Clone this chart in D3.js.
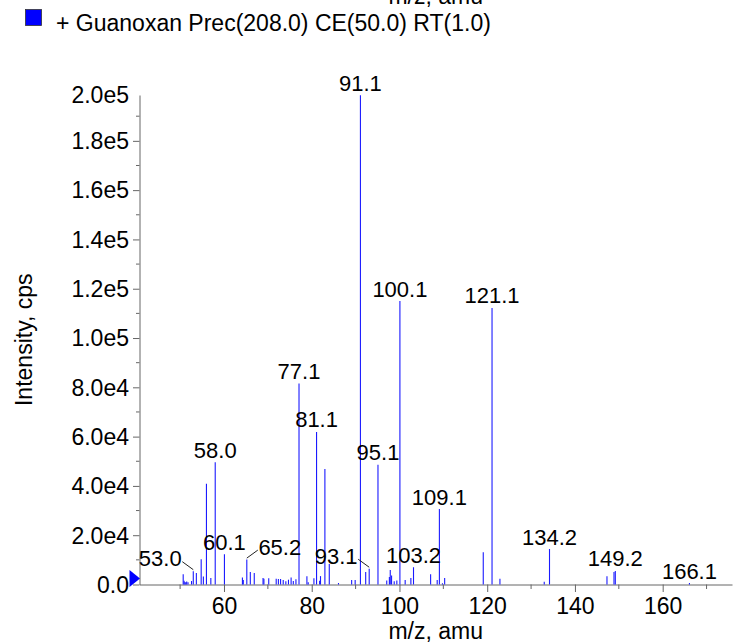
<!DOCTYPE html>
<html>
<head>
<meta charset="utf-8">
<script src="https://cdn.jsdelivr.net/npm/d3@7"></script>
<style>
  html, body { margin: 0; padding: 0; background: #fff; }
  svg { display: block; font-family: "Liberation Sans", Arial, Helvetica, sans-serif; }
</style>
</head>
<body>
<svg id="chart" width="735" height="643"></svg>
<script>
// ---- data ----
const mzValues = [
  50.7, 50.9, 51.1, 51.3, 51.5, 51.8, 52.6, 53.0, 53.7, 54.8, 55.3, 56.0, 57.0, 58.0,
  60.1, 64.2, 64.4, 65.2, 66.0, 66.9, 68.9, 69.1, 70.2, 71.9, 72.4, 72.9, 73.5, 74.1,
  74.7, 75.3, 75.8, 76.4, 77.1, 78.9, 79.2, 80.5, 81.1, 81.8, 82.0, 83.0, 84.0, 86.1,
  89.1, 89.9, 91.1, 92.3, 93.1, 95.1, 97.1, 97.7, 97.9, 98.2, 98.8, 99.4, 100.1,
  101.3, 102.6, 103.2, 107.1, 108.6, 109.1, 109.8, 110.3, 119.1, 121.1, 122.9,
  133.0, 134.2, 147.3, 148.9, 149.2, 166.1
];
const intensities = [
  4200, 1500, 1000, 800, 1200, 900, 1400, 5400, 4700, 10200, 3200, 40900, 2600, 49600,
  12250, 2800, 1800, 10100, 5100, 4700, 2600, 2350, 2500, 2350, 2200, 2200, 1800, 1300,
  1950, 2800, 1400, 2100, 81600, 3300, 900, 2500, 61900, 1500, 3400, 46900, 8300, 600,
  1800, 1800, 198500, 5100, 6400, 48600, 1600, 3000, 5900, 3700, 1300, 1600, 115000,
  1800, 2600, 7000, 4200, 1800, 30600, 500, 2640, 13050, 112200, 2300,
  1130, 14400, 3330, 5070, 5480, 600
];
const labeledMz = [53.0, 58.0, 60.1, 65.2, 77.1, 81.1, 91.1, 93.1, 95.1, 100.1, 103.2, 109.1, 121.1, 134.2, 149.2, 166.1];
const xMajorTicks = [60, 80, 100, 120, 140, 160];
const xMinorTicks = [50, 70, 90, 110, 130, 150, 170];
const yMajorTicks = [0, 2e4, 4e4, 6e4, 8e4, 1e5, 1.2e5, 1.4e5, 1.6e5, 1.8e5, 2e5];
const yMinorTicks = [1e4, 3e4, 5e4, 7e4, 9e4, 1.1e5, 1.3e5, 1.5e5, 1.7e5, 1.9e5];
const legendText = "+ Guanoxan Prec(208.0) CE(50.0) RT(1.0)";
const xAxisTitle = "m/z, amu";
const yAxisTitle = "Intensity, cps";
// labels drawn beside their peak with a leader line (direction: -1 left, +1 right)
const leaderSide = { "53.0": -1, "65.2": 1, "93.1": -1 };

(function () {
  // ---- layout ----
  const svg = d3.select("#chart");
  const mLeft = 139.5, mRight = 732, mBottom = 584.5, mTop = 95;
  const x = d3.scaleLinear().domain([40.74, 175.8]).range([mLeft, mRight]);
  const y = d3.scaleLinear().domain([0, 198600]).range([mBottom, mTop]).clamp(true);
  const axisColor = "#666";
  const fs = "23px";

  // y axis
  const yAxis = svg.append("g").attr("transform", `translate(${mLeft},0)`)
    .call(d3.axisLeft(y).tickValues(yMajorTicks).tickSizeInner(6.5).tickSizeOuter(0).tickPadding(4)
      .tickFormat(d => d === 0 ? "0.0" : d3.format(".1e")(d).replace("e+", "e")));
  yAxis.select(".domain").attr("stroke", axisColor);
  yAxis.selectAll(".tick line").attr("stroke", axisColor)
    .filter(d => d === 2e5).remove();
  yAxis.selectAll(".tick text").attr("font-size", fs).attr("font-family", null).attr("fill", "#000").attr("dy", "0.34em");
  yAxis.selectAll(".minor").data(yMinorTicks).enter().append("line").attr("class", "minor")
    .attr("x1", -3.5).attr("x2", 0).attr("y1", d => y(d)).attr("y2", d => y(d)).attr("stroke", axisColor);

  // x axis
  const xAxis = svg.append("g").attr("transform", `translate(0,${mBottom})`)
    .call(d3.axisBottom(x).tickValues(xMajorTicks).tickSizeInner(7.5).tickSizeOuter(0).tickPadding(4));
  xAxis.select(".domain").attr("stroke", axisColor);
  xAxis.selectAll(".tick line").attr("stroke", axisColor);
  xAxis.selectAll(".tick text").attr("font-size", fs).attr("font-family", null).attr("fill", "#000")
    .attr("y", 29).attr("dy", "0");
  xAxis.selectAll(".minor").data(xMinorTicks).enter().append("line").attr("class", "minor")
    .attr("x1", d => x(d)).attr("x2", d => x(d)).attr("y1", 0).attr("y2", 4.5).attr("stroke", axisColor);

  // peaks
  const peaks = mzValues.map((m, i) => ({ mz: m, v: intensities[i] }));
  svg.append("g").selectAll("line").data(peaks).enter().append("line")
    .attr("x1", d => x(d.mz)).attr("x2", d => x(d.mz))
    .attr("y1", y(0)).attr("y2", d => y(d.v))
    .attr("stroke", "#1a1aff").attr("stroke-width", 1.1);

  // zero marker triangle
  svg.append("path")
    .attr("d", `M${mLeft - 10},${mBottom - 14.5} L${mLeft - 10},${mBottom + 2.5} L${mLeft + 0.5},${mBottom - 6} Z`)
    .attr("fill", "#0000ff");

  // peak labels
  const fmt = d3.format(".1f");
  const lab = svg.append("g");
  labeledMz.forEach(m => {
    const p = peaks.find(d => Math.abs(d.mz - m) < 0.05);
    const px = x(p.mz), py = y(p.v);
    const key = fmt(m);
    const side = leaderSide[key];
    if (side) {
      lab.append("line").attr("x1", px).attr("y1", py - 1.5)
        .attr("x2", px + side * 11).attr("y2", py - 9.5)
        .attr("stroke", "#222").attr("stroke-width", 1);
      lab.append("text").attr("x", px + side * 33).attr("y", py - 4.8)
        .attr("text-anchor", "middle").attr("font-size", "22px").text(key);
    } else {
      lab.append("text").attr("x", px).attr("y", py - 4.5)
        .attr("text-anchor", "middle").attr("font-size", "22px").text(key);
    }
  });

  // axis titles
  svg.append("text").attr("x", (mLeft + mRight) / 2).attr("y", 639)
    .attr("text-anchor", "middle").attr("font-size", fs).text(xAxisTitle);
  svg.append("text").attr("transform", `translate(31.5,${(mTop + mBottom) / 2}) rotate(-90)`)
    .attr("text-anchor", "middle").attr("font-size", fs).text(yAxisTitle);

  // cut-off title of panel above
  svg.append("text").attr("x", (mLeft + mRight) / 2).attr("y", 4)
    .attr("text-anchor", "middle").attr("font-size", fs).text(xAxisTitle);

  // legend
  svg.append("rect").attr("x", 25.5).attr("y", 9.5).attr("width", 16).attr("height", 16)
    .attr("fill", "#0000ff").attr("stroke", "#333").attr("stroke-width", 0.8);
  svg.append("text").attr("x", 56).attr("y", 30.5).attr("font-size", fs).text(legendText);
})();
</script>
</body>
</html>
